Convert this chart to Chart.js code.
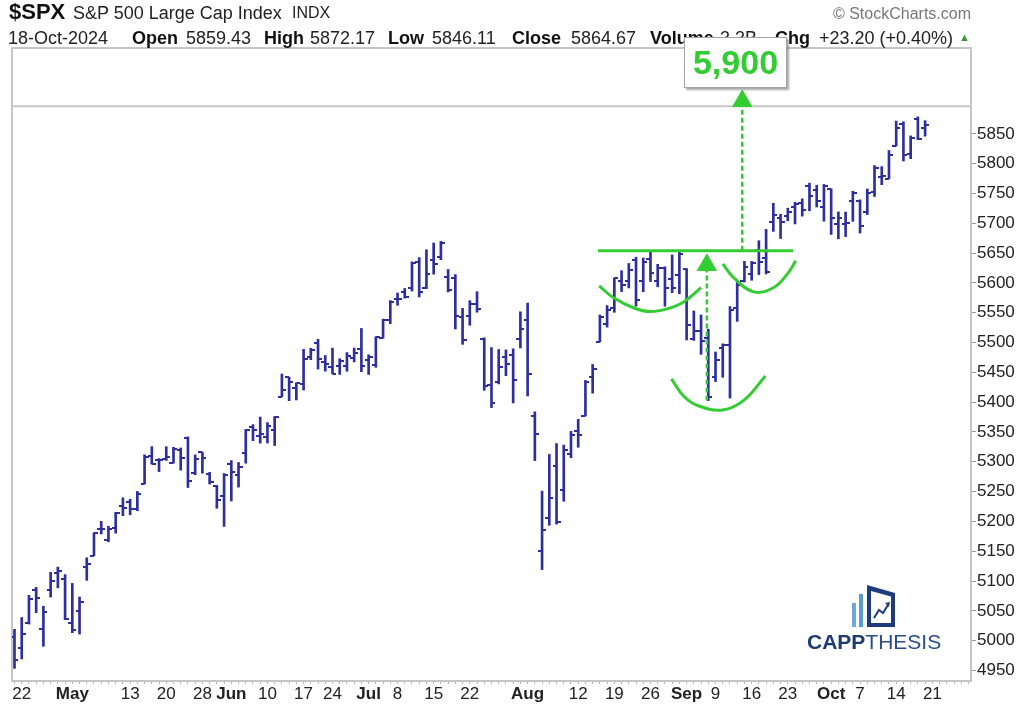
<!DOCTYPE html>
<html>
<head>
<meta charset="utf-8">
<script src="https://cdn.jsdelivr.net/npm/chart.js@4.4.1/dist/chart.umd.min.js"></script>
<style>
  html, body { margin: 0; padding: 0; background: #fff; }
  body { width: 1024px; height: 706px; position: relative; overflow: hidden;
         font-family: "Liberation Sans", Arial, sans-serif; color: #222; }
  #wrap { position: absolute; left: 0; top: 0; width: 1024px; height: 706px; }
  .t { position: absolute; white-space: nowrap; font-size: 18px; line-height: 18px; }
  .b { font-weight: bold; color: #111; }
  #target { position: absolute; left: 684px; top: 37px; width: 101px; height: 49px;
            background: #fff; border: 1px solid #a5a5a5; box-shadow: 2px 2px 2px rgba(0,0,0,0.35);
            color: #33cc33; font-weight: bold; font-size: 34px; line-height: 49px; text-align: center; }
  #logoText { position: absolute; left: 807px; top: 632px; font-size: 21px; line-height: 20px; white-space: nowrap; }
</style>
</head>
<body>
<div id="wrap"><canvas id="c"></canvas></div>

<div class="t b" style="left:9px;top:1px;font-size:22px;line-height:22px;">$SPX</div>
<div class="t" style="left:73px;top:4px;">S&amp;P 500 Large Cap Index</div>
<div class="t" style="left:292px;top:5px;font-size:16px;line-height:16px;">INDX</div>
<div class="t" style="right:53px;top:6px;font-size:16px;line-height:16px;color:#777;">© StockCharts.com</div>

<div class="t" style="left:8px;top:29px;">18-Oct-2024</div>
<div class="t b" style="left:132px;top:29px;">Open</div>
<div class="t" style="left:186px;top:29px;">5859.43</div>
<div class="t b" style="left:264px;top:29px;">High</div>
<div class="t" style="left:310px;top:29px;">5872.17</div>
<div class="t b" style="left:388px;top:29px;">Low</div>
<div class="t" style="left:432px;top:29px;">5846.11</div>
<div class="t b" style="left:512px;top:29px;">Close</div>
<div class="t" style="left:571px;top:29px;">5864.67</div>
<div class="t b" style="left:650px;top:29px;">Volume</div>
<div class="t" style="left:720px;top:29px;">3.3B</div>
<div class="t b" style="left:775px;top:29px;">Chg</div>
<div class="t" style="left:819px;top:29px;">+23.20 (+0.40%)</div>
<div class="t" style="left:959px;top:32px;font-size:11px;line-height:11px;color:#3a9a3a;">▲</div>

<div id="target">5,900</div>

<svg style="position:absolute;left:848px;top:583px;" width="50" height="46" viewBox="0 0 50 46">
  <rect x="4" y="20" width="4" height="24" fill="#6fa8dc"/>
  <rect x="11" y="11" width="4" height="33" fill="#5b9bd5"/>
  <path fill="#1f3b7a" fill-rule="evenodd" d="M19 2 L47 10 L47 44 L19 44 Z M23 8 L43 13.5 L43 40 L23 40 Z"/>
  <polyline points="26,35 31,27 35,30 40,22" fill="none" stroke="#1f3b7a" stroke-width="2"/>
  <path d="M37 20 L42 19 L41 24 Z" fill="#1f3b7a"/>
</svg>
<div id="logoText"><span style="font-weight:bold;color:#1e3a72;">CAPP</span><span style="color:#2b4c8c;">THESIS</span></div>

<script>
// ---------------- DATA ----------------
const dates = ['Apr 19','Apr 22','Apr 23','Apr 24','Apr 25','Apr 26','Apr 29','Apr 30','May 1','May 2','May 3',
 'May 6','May 7','May 8','May 9','May 10','May 13','May 14','May 15','May 16','May 17','May 20','May 21','May 22','May 23','May 24',
 'May 28','May 29','May 30','May 31','Jun 3','Jun 4','Jun 5','Jun 6','Jun 7','Jun 10','Jun 11','Jun 12','Jun 13','Jun 14',
 'Jun 17','Jun 18','Jun 20','Jun 21','Jun 24','Jun 25','Jun 26','Jun 27','Jun 28','Jul 1','Jul 2','Jul 3','Jul 5',
 'Jul 8','Jul 9','Jul 10','Jul 11','Jul 12','Jul 15','Jul 16','Jul 17','Jul 18','Jul 19','Jul 22','Jul 23','Jul 24','Jul 25','Jul 26',
 'Jul 29','Jul 30','Jul 31','Aug 1','Aug 2','Aug 5','Aug 6','Aug 7','Aug 8','Aug 9','Aug 12','Aug 13','Aug 14','Aug 15','Aug 16',
 'Aug 19','Aug 20','Aug 21','Aug 22','Aug 23','Aug 26','Aug 27','Aug 28','Aug 29','Aug 30','Sep 3','Sep 4','Sep 5','Sep 6',
 'Sep 9','Sep 10','Sep 11','Sep 12','Sep 13','Sep 16','Sep 17','Sep 18','Sep 19','Sep 20','Sep 23','Sep 24','Sep 25','Sep 26','Sep 27',
 'Sep 30','Oct 1','Oct 2','Oct 3','Oct 4','Oct 7','Oct 8','Oct 9','Oct 10','Oct 11','Oct 14','Oct 15','Oct 16','Oct 17','Oct 18'];
const futureDates = ['Oct 21','Oct 22','Oct 23','Oct 24','Oct 25','Oct 28'];

const opens = [5005.44,4987.33,5028.85,5084.86,5019.88,5084.65,5114.13,5103.78,5029.03,5049.32,5122.78,
 5142.42,5187.20,5168.98,5189.03,5225.49,5233.08,5221.10,5263.26,5310.07,5303.10,5305.35,5298.69,5319.28,5340.26,5281.45,
 5315.91,5278.73,5259.77,5243.21,5297.15,5278.24,5314.48,5357.80,5343.81,5341.22,5353.00,5409.13,5441.93,5424.08,
 5431.11,5476.15,5499.99,5466.77,5459.58,5460.73,5460.71,5473.59,5488.48,5471.08,5461.84,5507.44,5537.91,
 5572.75,5584.24,5591.26,5635.21,5590.76,5638.16,5644.09,5610.07,5608.56,5543.37,5544.54,5565.30,5505.84,5428.70,5433.67,
 5476.55,5478.73,5505.59,5537.84,5376.63,5151.14,5206.42,5293.13,5252.57,5312.70,5351.21,5376.98,5442.92,5501.13,5530.50,
 5557.23,5602.88,5603.09,5637.77,5602.89,5639.66,5602.89,5624.51,5607.30,5612.74,5623.89,5506.68,5520.08,5507.33,
 5442.07,5490.51,5496.42,5557.48,5603.34,5615.21,5655.51,5641.68,5702.63,5709.39,5711.90,5727.88,5733.65,5762.22,5755.36,
 5726.52,5757.73,5698.19,5698.19,5737.44,5737.80,5719.14,5751.80,5778.36,5775.09,5829.81,5866.74,5816.58,5875.62,5859.43];
const highs = [5019.02,5038.84,5076.12,5089.48,5057.75,5114.62,5123.49,5110.83,5096.12,5073.21,5139.12,
 5181.00,5200.23,5191.95,5215.30,5239.66,5237.26,5250.37,5311.76,5325.49,5305.45,5325.32,5324.32,5323.18,5341.88,5311.65,
 5315.91,5282.27,5260.21,5280.33,5302.11,5298.80,5354.16,5362.35,5375.08,5365.79,5375.95,5447.25,5441.93,5432.39,
 5488.50,5490.38,5505.53,5478.31,5490.66,5472.88,5483.14,5490.81,5523.64,5479.55,5509.69,5539.27,5570.33,
 5583.11,5590.75,5635.39,5642.45,5655.56,5666.94,5669.67,5622.49,5614.05,5557.50,5570.36,5585.34,5508.04,5491.59,5488.32,
 5487.74,5489.46,5551.51,5566.16,5383.89,5250.89,5312.34,5330.64,5328.03,5351.06,5371.20,5436.50,5463.22,5546.23,5561.98,
 5608.30,5620.51,5632.68,5643.22,5641.82,5651.62,5631.18,5627.03,5646.95,5651.37,5623.89,5552.99,5546.30,5522.47,
 5484.20,5497.91,5560.41,5600.71,5636.27,5636.05,5670.81,5689.75,5733.57,5715.14,5725.36,5735.32,5741.03,5767.37,5763.78,
 5765.14,5757.73,5719.14,5718.78,5753.79,5739.34,5757.60,5796.80,5795.03,5822.13,5871.41,5870.36,5846.52,5878.46,5872.17];
const lows = [4953.56,4969.40,5027.96,5047.02,4990.58,5073.14,5088.65,5035.31,5013.45,5011.05,5101.22,
 5142.42,5178.96,5165.86,5180.41,5209.68,5211.16,5217.98,5263.26,5296.19,5283.59,5302.40,5297.87,5286.01,5256.93,5278.39,
 5280.89,5262.70,5222.10,5191.68,5234.32,5257.63,5297.64,5335.36,5331.33,5331.52,5327.25,5409.13,5402.51,5403.75,
 5420.40,5471.32,5455.56,5452.03,5447.59,5446.56,5451.87,5467.54,5451.12,5446.53,5458.43,5507.42,5531.63,
 5562.51,5574.57,5586.44,5576.53,5590.44,5614.75,5639.02,5584.81,5522.81,5497.04,5529.04,5550.90,5419.98,5390.95,5430.70,
 5444.44,5398.79,5491.00,5410.42,5302.03,5119.26,5193.56,5195.54,5233.85,5306.77,5324.37,5376.98,5415.06,5501.13,5525.92,
 5550.74,5585.50,5591.57,5560.95,5585.16,5602.34,5593.48,5560.95,5583.71,5581.79,5504.33,5503.66,5480.22,5402.62,
 5434.49,5441.72,5406.96,5535.50,5601.65,5604.53,5614.05,5615.08,5686.42,5674.49,5704.22,5698.99,5712.06,5721.01,5727.34,
 5703.53,5681.28,5674.00,5677.70,5703.28,5683.59,5714.56,5745.02,5764.76,5775.09,5829.81,5804.48,5808.34,5840.25,5846.11];
const closes = [4967.23,5010.60,5070.55,5071.63,5048.42,5099.96,5116.17,5035.69,5018.39,5064.20,5127.79,
 5180.74,5187.70,5187.67,5214.08,5222.68,5221.42,5246.68,5308.15,5297.10,5303.27,5308.13,5321.41,5307.01,5267.84,5304.72,
 5306.04,5266.95,5235.48,5277.51,5283.40,5291.34,5354.03,5352.96,5346.99,5360.79,5375.32,5421.03,5433.74,5431.60,
 5473.23,5487.03,5473.17,5464.62,5447.87,5469.30,5477.90,5482.87,5460.48,5475.09,5509.01,5537.02,5567.19,
 5572.85,5576.98,5633.91,5584.54,5615.35,5631.22,5667.20,5588.27,5544.59,5505.00,5564.41,5555.74,5427.13,5399.22,5459.10,
 5463.54,5436.44,5522.30,5446.68,5346.56,5186.33,5240.03,5199.50,5319.31,5344.16,5344.39,5434.43,5455.21,5543.22,5554.25,
 5608.25,5597.12,5620.85,5570.64,5634.61,5616.84,5625.80,5592.18,5591.96,5648.40,5528.93,5520.07,5503.41,5408.42,
 5471.05,5495.52,5554.13,5595.76,5626.02,5633.09,5634.58,5618.26,5713.64,5702.55,5718.57,5732.93,5722.26,5745.37,5738.17,
 5762.48,5708.75,5709.54,5699.94,5751.07,5695.94,5751.13,5792.04,5780.05,5815.03,5859.85,5815.26,5842.47,5841.47,5864.67];

const xTickDates  = ['Apr 22','May 1','May 13','May 20','May 28','Jun 3','Jun 10','Jun 17','Jun 24','Jul 1','Jul 8','Jul 15','Jul 22',
                     'Aug 1','Aug 12','Aug 19','Aug 26','Sep 3','Sep 9','Sep 16','Sep 23','Oct 1','Oct 7','Oct 14','Oct 21'];
const xTickLabels = ['22','May','13','20','28','Jun','10','17','24','Jul','8','15','22',
                     'Aug','12','19','26','Sep','9','16','23','Oct','7','14','21'];
const monthNames  = ['May','Jun','Jul','Aug','Sep','Oct'];
const yTicks = [4950,5000,5050,5100,5150,5200,5250,5300,5350,5400,5450,5500,5550,5600,5650,5700,5750,5800,5850];

// annotation geometry (in date-slot / price units)
const necklineLevel = 5654;
const necklineFrom = 'Aug 15', necklineTo = 'Sep 23';
const leftCup   = [[80.9,5595],[82.9,5575],[85.7,5558],[88.0,5552],[90.4,5557],[92.6,5568],[95.0,5592]];
const bottomCup = [[90.9,5439],[92.6,5410],[94.6,5394],[98.0,5387],[100.9,5403],[103.9,5444]];
const rightCup  = [[98.0,5632],[99.5,5609],[102.3,5585],[105.0,5592],[107.0,5616],[108.1,5637]];
const arrowUp1  = {x: 95.8, from: 5403, to: 5622, head: 5630};
const arrowUp2  = {x: 100.7, from: 5654, to: 5893, head: 5905};
const panelSplit = 5896.5;

// ---------------- CHART ----------------
const BAR = '#2e2e9e';
const GREEN = '#33cc33';
const FRAME = '#c6c6c6';
const FONT = '"Liberation Sans", Arial, sans-serif';

const categories = dates.concat(futureDates);
const labelAt = {};
xTickDates.forEach((d, k) => { labelAt[categories.indexOf(d)] = xTickLabels[k]; });
const xMin = -0.345, xMax = 132.35;

function tickImage(side) {
  const c = document.createElement('canvas');
  c.width = 8; c.height = 2;
  const g = c.getContext('2d');
  g.fillStyle = BAR;
  g.fillRect(side === 'left' ? 0 : 4, 0, 4, 2);
  return c;
}

const hlData = dates.map((d, i) => ({x: i, y: [lows[i], highs[i]]}));
const openData = dates.map((d, i) => ({x: i, y: opens[i]}));
const closeData = dates.map((d, i) => ({x: i, y: closes[i]}));
const pts = arr => arr.map(p => ({x: p[0], y: p[1]}));

const lineBase = {type: 'line', pointRadius: 0, fill: false, order: 0, xAxisID: 'x', yAxisID: 'y'};

new Chart(document.getElementById('c'), {
  type: 'bar',
  data: {
    datasets: [
      Object.assign({}, lineBase, {data: [{x: categories.indexOf(necklineFrom) - 0.25, y: necklineLevel}, {x: categories.indexOf(necklineTo) + 0.75, y: necklineLevel}],
        borderColor: GREEN, borderWidth: 3}),
      Object.assign({}, lineBase, {data: pts(leftCup), borderColor: GREEN, borderWidth: 3, tension: 0.4}),
      Object.assign({}, lineBase, {data: pts(bottomCup), borderColor: GREEN, borderWidth: 3, tension: 0.4}),
      Object.assign({}, lineBase, {data: pts(rightCup), borderColor: GREEN, borderWidth: 3, tension: 0.4}),
      Object.assign({}, lineBase, {data: [{x: arrowUp1.x, y: arrowUp1.from}, {x: arrowUp1.x, y: arrowUp1.to}],
        borderColor: GREEN, borderWidth: 2.5, borderDash: [5, 3]}),
      Object.assign({}, lineBase, {data: [{x: arrowUp2.x, y: arrowUp2.from}, {x: arrowUp2.x, y: arrowUp2.to}],
        borderColor: GREEN, borderWidth: 2.5, borderDash: [5, 3]}),
      Object.assign({}, lineBase, {data: [{x: arrowUp1.x, y: arrowUp1.head}, {x: arrowUp2.x, y: arrowUp2.head}],
        showLine: false, pointStyle: 'triangle', pointRadius: 11, pointBackgroundColor: GREEN, pointBorderColor: GREEN, pointBorderWidth: 1}),
      {type: 'line', data: openData, showLine: false, pointStyle: tickImage('left'), pointRadius: 3, order: 1, xAxisID: 'x', yAxisID: 'y'},
      {type: 'line', data: closeData, showLine: false, pointStyle: tickImage('right'), pointRadius: 3, order: 1, xAxisID: 'x', yAxisID: 'y'},
      {type: 'bar', data: hlData, backgroundColor: BAR, borderWidth: 0, borderSkipped: false, barThickness: 2, order: 2, xAxisID: 'x', yAxisID: 'y'},
      Object.assign({}, lineBase, {data: [{x: xMin, y: panelSplit}, {x: xMax, y: panelSplit}], borderColor: FRAME, borderWidth: 2, order: 3})
    ]
  },
  options: {
    responsive: true,
    maintainAspectRatio: false,
    animation: false,
    events: [],
    layout: {padding: {top: 48, left: 9, right: 0, bottom: 0}},
    plugins: {legend: {display: false}, tooltip: {enabled: false}, title: {display: false}},
    scales: {
      x: {
        type: 'linear', position: 'bottom', min: xMin, max: xMax, offset: false,
        afterBuildTicks: s => { s.ticks = categories.map((_, i) => ({value: i})); },
        afterFit: s => { s.height = 25; },
        ticks: {
          autoSkip: false, maxRotation: 0, minRotation: 0, padding: 0, color: '#222',
          callback: v => labelAt[v] || '',
          font: ctx => ({family: FONT, size: 17,
            weight: (ctx.tick && monthNames.includes(labelAt[ctx.tick.value])) ? 'bold' : 'normal'})
        },
        grid: {drawOnChartArea: false, offset: false, tickLength: 3, color: '#b5b5b5', lineWidth: 1},
        border: {color: FRAME, width: 2}
      },
      y: {
        type: 'linear', position: 'right', min: 4932.4, max: 5994,
        afterBuildTicks: s => { s.ticks = yTicks.map(v => ({value: v})); },
        afterFit: s => { s.width = 53; },
        ticks: {padding: 1, color: '#222', font: {family: FONT, size: 17}, callback: v => String(v)},
        grid: {drawOnChartArea: false, tickLength: 5, color: '#9a9a9a'},
        border: {color: FRAME, width: 2}
      },
      xTop: {
        type: 'linear', position: 'top', min: 0, max: 1,
        ticks: {display: false}, grid: {display: false, drawTicks: false},
        border: {color: FRAME, width: 2}
      },
      yLeft: {
        type: 'linear', position: 'left', min: 0, max: 1,
        ticks: {display: false}, grid: {display: false, drawTicks: false},
        border: {color: FRAME, width: 2}
      }
    }
  }
});
</script>
</body>
</html>
